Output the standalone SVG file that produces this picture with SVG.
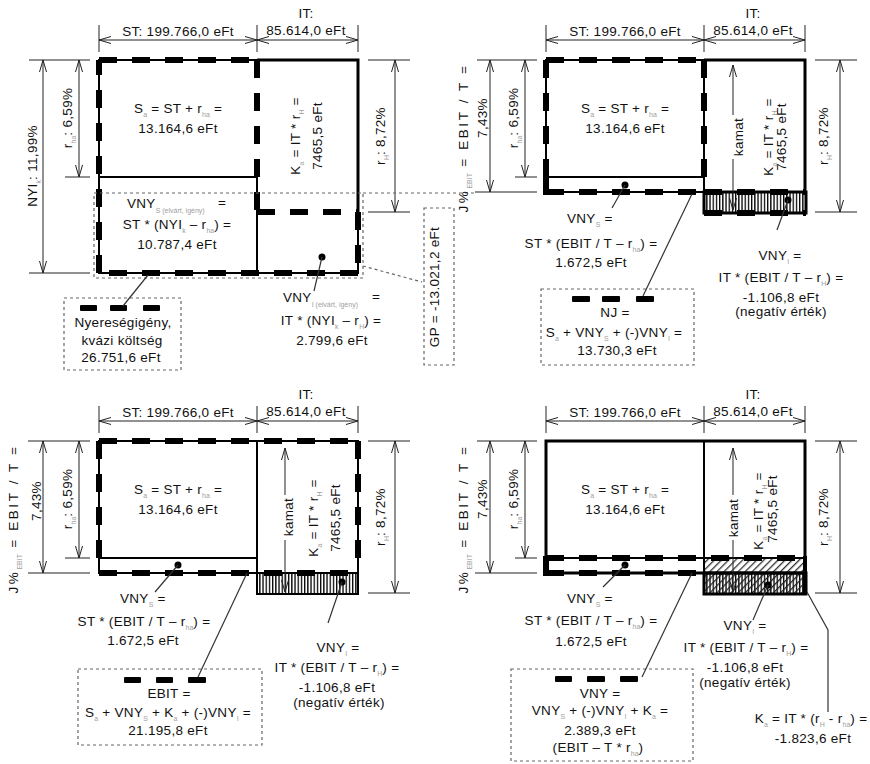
<svg xmlns="http://www.w3.org/2000/svg" width="870" height="764" viewBox="0 0 870 764">
<style>
text{font-family:"Liberation Sans",Arial,Helvetica,sans-serif;font-size:13.5px;fill:#111;letter-spacing:.3px}
.c{text-anchor:middle}
.s{font-size:7px;fill:#a0a0a0;letter-spacing:0}
.sp{letter-spacing:2.6px}
.thin{fill:none;stroke:#000;stroke-width:2}
.frame{fill:none;stroke:#000;stroke-width:3}
.dash{fill:none;stroke:#000;stroke-width:6;stroke-dasharray:18 15}
.blk{stroke:#000;stroke-width:6}
.dim{fill:none;stroke:#222;stroke-width:1}
.arr{marker-start:url(#arr);marker-end:url(#arr)}
.arr1{marker-end:url(#arr)}
.dot{fill:none;stroke:#666;stroke-width:1.2;stroke-dasharray:3 3}
.lead{fill:none;stroke:#333;stroke-width:1.2}
.pt{fill:#000}
.bar{fill:#000}
</style>
<defs>
<marker id="arr" viewBox="0 0 12 8" refX="12" refY="4" markerWidth="12" markerHeight="8" markerUnits="userSpaceOnUse" orient="auto-start-reverse"><path d="M0,0.5 L12,4 L0,7.5" fill="none" stroke="#222" stroke-width="1"/></marker>
<pattern id="vh" width="3.2" height="4" patternUnits="userSpaceOnUse"><rect width="3.2" height="4" fill="#fff"/><rect width="1.3" height="4" fill="#000"/></pattern>
<pattern id="dh" width="5" height="5" patternUnits="userSpaceOnUse" patternTransform="rotate(45)"><rect width="5" height="5" fill="#fff"/><rect width="1.3" height="5" fill="#333"/></pattern>
<pattern id="dh2" width="5" height="5" patternUnits="userSpaceOnUse" patternTransform="rotate(45)"><rect width="1.3" height="5" fill="#222"/></pattern>
</defs>
<rect width="870" height="764" fill="#fff"/>

<!-- ================= PANEL 1 (top-left) ================= -->
<g id="panel1">
 <g id="p1-dims">
  <line class="dim" x1="99" y1="25" x2="99" y2="52"/>
  <line class="dim" x1="257" y1="25" x2="257" y2="52"/>
  <line class="dim" x1="358" y1="25" x2="358" y2="52"/>
  <line class="dim arr" x1="99" y1="40" x2="257" y2="40"/>
  <line class="dim arr" x1="257" y1="40" x2="358" y2="40"/>
  <text class="c" x="178" y="36">ST: 199.766,0 eFt</text>
  <text class="c" x="306" y="18">IT:</text>
  <text class="c" x="306" y="35">85.614,0 eFt</text>
  <line class="dim" x1="29" y1="60" x2="90" y2="60"/>
  <line class="dim" x1="29" y1="273" x2="90" y2="273"/>
  <line class="dim" x1="65" y1="177" x2="90" y2="177"/>
  <line class="dim arr" x1="43" y1="60" x2="43" y2="273"/>
  <line class="dim arr" x1="79" y1="60" x2="79" y2="177"/>
  <text class="c" transform="translate(37,166) rotate(-90)">NYI<tspan class="s" dy="4">k</tspan><tspan dy="-4">: 11,99%</tspan></text>
  <text class="c" transform="translate(72,118) rotate(-90)">r<tspan class="s" dy="4">ha</tspan><tspan dy="-4">: 6,59%</tspan></text>
  <line class="dim" x1="368" y1="60" x2="410" y2="60"/>
  <line class="dim" x1="368" y1="212" x2="410" y2="212"/>
  <line class="dim arr" x1="395" y1="60" x2="395" y2="212"/>
  <text class="c" transform="translate(385,136) rotate(-90)">r<tspan class="s" dy="4">H</tspan><tspan dy="-4">: 8,72%</tspan></text>
 </g>
 <g id="p1-shapes">
  <rect class="thin" x="99" y="60" width="259" height="213"/>
  <line class="thin" x1="99" y1="177" x2="257" y2="177"/>
  <line class="thin" x1="257" y1="177" x2="257" y2="273"/>
  <path class="frame" d="M257,60 H358 V212"/>
  <path class="dash" d="M99,60 H257 M257,60 V212 M257,212 H358 M358,212 V273 M358,273 H99 M99,273 V60"/>
  <rect class="dot" x="94" y="193" width="269" height="85"/>
  <line class="dot" x1="363" y1="193" x2="476" y2="193"/>
 </g>
 <g id="p1-sa">
  <text class="c" x="178" y="113">S<tspan class="s" dy="4">a</tspan><tspan dy="-4"> = ST + r</tspan><tspan class="s" dy="4">ha</tspan><tspan dy="-4"> =</tspan></text>
  <text class="c" x="178" y="133">13.164,6 eFt</text>
 </g>
 <g id="p1-ka">
  <text class="c" transform="translate(300,136) rotate(-90)">K<tspan class="s" dy="4">a</tspan><tspan dy="-4"> = IT * r</tspan><tspan class="s" dy="4">H</tspan><tspan dy="-4"> =</tspan></text>
  <text class="c" transform="translate(322,136) rotate(-90)">7465,5 eFt</text>
 </g>
 <g id="p1-vnys">
  <text x="127" y="208">VNY<tspan class="s" dy="5">S (elvárt, igény)</tspan></text>
  <text x="218" y="207">=</text>
  <text class="c" x="177" y="229">ST * (NYI<tspan class="s" dy="4">k</tspan><tspan dy="-4"> – r</tspan><tspan class="s" dy="4">ha</tspan><tspan dy="-4">) =</tspan></text>
  <text class="c" x="177" y="249">10.787,4 eFt</text>
 </g>
 <g id="p1-vnyi">
  <circle class="pt" cx="322" cy="257" r="3.5"/>
  <text x="283" y="302">VNY<tspan class="s" dy="5">I (elvárt, igény)</tspan></text>
  <text x="372" y="301">=</text>
  <text class="c" x="331" y="325">IT * (NYI<tspan class="s" dy="4">k</tspan><tspan dy="-4"> – r</tspan><tspan class="s" dy="4">H</tspan><tspan dy="-4">) =</tspan></text>
  <text class="c" x="332" y="345">2.799,6 eFt</text>
 </g>
 <g id="p1-legend">
  <rect class="dot" x="64" y="298" width="117" height="72"/>
  <rect class="bar" x="80" y="305" width="17" height="6" rx="1"/>
  <rect class="bar" x="110" y="305" width="17" height="6" rx="1"/>
  <rect class="bar" x="143" y="305" width="17" height="6" rx="1"/>
  <text class="c" x="123" y="327">Nyereségigény,</text>
  <text class="c" x="122" y="345">kvázi költség</text>
  <text class="c" x="121" y="362">26.751,6 eFt</text>
 </g>
 <g id="p1-gp">
  <rect class="dot" x="424" y="208" width="30" height="157"/>
  <text class="c" transform="translate(439,287) rotate(-90)">GP = -13.021,2 eFt</text>
 </g>
</g>

<!-- ================= PANEL 2 (top-right) ================= -->
<g id="panel2" transform="translate(447,0)">
 <g id="p2-dims">
  <line class="dim" x1="99" y1="25" x2="99" y2="52"/>
  <line class="dim" x1="257" y1="25" x2="257" y2="52"/>
  <line class="dim" x1="358" y1="25" x2="358" y2="52"/>
  <line class="dim arr" x1="99" y1="40" x2="257" y2="40"/>
  <line class="dim arr" x1="257" y1="40" x2="358" y2="40"/>
  <text class="c" x="178" y="36">ST: 199.766,0 eFt</text>
  <text class="c" x="306" y="18">IT:</text>
  <text class="c" x="306" y="35">85.614,0 eFt</text>
  <line class="dim" x1="30" y1="60" x2="90" y2="60"/>
  <line class="dim" x1="28" y1="192" x2="90" y2="192"/>
  <line class="dim" x1="68" y1="177" x2="90" y2="177"/>
  <line class="dim arr" x1="43" y1="60" x2="43" y2="192"/>
  <line class="dim arr" x1="78" y1="60" x2="78" y2="177"/>
  <text class="c sp" transform="translate(21,138) rotate(-90)">J%<tspan class="s" dy="4">EBIT</tspan><tspan dy="-4"> = EBIT / T =</tspan></text>
  <text class="c" transform="translate(40,118) rotate(-90)">7,43%</text>
  <text class="c" transform="translate(71,118) rotate(-90)">r<tspan class="s" dy="4">ha</tspan><tspan dy="-4">: 6,59%</tspan></text>
  <line class="dim" x1="368" y1="60" x2="410" y2="60"/>
  <line class="dim" x1="368" y1="212" x2="410" y2="212"/>
  <line class="dim arr" x1="393" y1="60" x2="393" y2="212"/>
  <text class="c" transform="translate(381,136) rotate(-90)">r<tspan class="s" dy="4">H</tspan><tspan dy="-4">: 8,72%</tspan></text>
 </g>
 <g id="p2-shapes">
  <rect class="thin" x="99" y="60" width="158" height="132"/>
  <line class="thin" x1="99" y1="177" x2="257" y2="177"/>
  <path class="frame" d="M257,60 H358 V192"/>
  <rect x="257" y="192" width="102" height="21" fill="url(#vh)" stroke="#000" stroke-width="3"/>
  <path class="dash" d="M99,60 H257 M257,60 V177 M99,60 V192 M99,192 H257 M257,192 H359 M257,213 H359"/>
  <line class="blk" x1="99" y1="175" x2="99" y2="195"/>
 </g>
 <g id="p2-kamat">
  <line class="dim arr1" x1="286" y1="115" x2="286" y2="65"/>
  <line class="dim arr1" x1="286" y1="159" x2="286" y2="210"/>
  <text class="c" transform="translate(296,137) rotate(-90)">kamat</text>
 </g>
 <g id="p2-sa">
  <text class="c" x="178" y="113">S<tspan class="s" dy="4">a</tspan><tspan dy="-4"> = ST + r</tspan><tspan class="s" dy="4">ha</tspan><tspan dy="-4"> =</tspan></text>
  <text class="c" x="178" y="133">13.164,6 eFt</text>
 </g>
 <g id="p2-ka">
  <text class="c" transform="translate(326,137) rotate(-90)">K<tspan class="s" dy="4">a</tspan><tspan dy="-4"> = IT * r</tspan><tspan class="s" dy="4">H</tspan><tspan dy="-4"> =</tspan></text>
  <text class="c" transform="translate(339,137) rotate(-90)">7465,5 eFt</text>
 </g>
 <g id="p2-vnys">
  <circle class="pt" cx="178" cy="185" r="3.5"/>
  <text x="120" y="223">VNY<tspan class="s" dy="4">S</tspan><tspan dy="-4"> =</tspan></text>
  <text class="c" x="144" y="248">ST * (EBIT / T – r<tspan class="s" dy="4">ha</tspan><tspan dy="-4">) =</tspan></text>
  <text class="c" x="144" y="267">1.672,5 eFt</text>
 </g>
 <g id="p2-nj">
  <rect class="dot" x="94" y="289" width="153" height="76"/>
  <rect class="bar" x="125" y="296" width="18" height="6" rx="1"/>
  <rect class="bar" x="155" y="296" width="18" height="6" rx="1"/>
  <rect class="bar" x="189" y="296" width="18" height="6" rx="1"/>
  <text class="c" x="168" y="317">NJ =</text>
  <text class="c" x="167" y="337">S<tspan class="s" dy="4">a</tspan><tspan dy="-4"> + VNY</tspan><tspan class="s" dy="4">S</tspan><tspan dy="-4"> + (-)VNY</tspan><tspan class="s" dy="4">I</tspan><tspan dy="-4"> =</tspan></text>
  <text class="c" x="170" y="355">13.730,3 eFt</text>
 </g>
 <g id="p2-vnyi">
  <circle class="pt" cx="341" cy="200" r="3.5"/>
  <text class="c" x="333" y="260">VNY<tspan class="s" dy="4">I</tspan><tspan dy="-4"> =</tspan></text>
  <text class="c" x="334" y="282">IT * (EBIT / T – r<tspan class="s" dy="4">H</tspan><tspan dy="-4">) =</tspan></text>
  <text class="c" x="334" y="302">-1.106,8 eFt</text>
  <text class="c" x="334" y="316">(negatív érték)</text>
 </g>
</g>

<!-- ================= PANEL 3 (bottom-left) ================= -->
<g id="panel3" transform="translate(0,381)">
 <g id="p3-dims">
  <line class="dim" x1="99" y1="25" x2="99" y2="52"/>
  <line class="dim" x1="257" y1="25" x2="257" y2="52"/>
  <line class="dim" x1="358" y1="25" x2="358" y2="52"/>
  <line class="dim arr" x1="99" y1="40" x2="257" y2="40"/>
  <line class="dim arr" x1="257" y1="40" x2="358" y2="40"/>
  <text class="c" x="178" y="36">ST: 199.766,0 eFt</text>
  <text class="c" x="306" y="18">IT:</text>
  <text class="c" x="306" y="35">85.614,0 eFt</text>
  <line class="dim" x1="28" y1="60" x2="90" y2="60"/>
  <line class="dim" x1="28" y1="192" x2="90" y2="192"/>
  <line class="dim" x1="65" y1="177" x2="90" y2="177"/>
  <line class="dim arr" x1="43" y1="60" x2="43" y2="192"/>
  <line class="dim arr" x1="79" y1="60" x2="79" y2="177"/>
  <text class="c sp" transform="translate(18,138) rotate(-90)">J%<tspan class="s" dy="4">EBIT</tspan><tspan dy="-4"> = EBIT / T =</tspan></text>
  <text class="c" transform="translate(41,120) rotate(-90)">7,43%</text>
  <text class="c" transform="translate(72,118) rotate(-90)">r<tspan class="s" dy="4">ha</tspan><tspan dy="-4">: 6,59%</tspan></text>
  <line class="dim" x1="368" y1="60" x2="410" y2="60"/>
  <line class="dim" x1="368" y1="212" x2="410" y2="212"/>
  <line class="dim arr" x1="395" y1="60" x2="395" y2="212"/>
  <text class="c" transform="translate(385,136) rotate(-90)">r<tspan class="s" dy="4">H</tspan><tspan dy="-4">: 8,72%</tspan></text>
 </g>
 <g id="p3-shapes">
  <rect class="thin" x="99" y="60" width="259" height="132"/>
  <line class="thin" x1="99" y1="177" x2="257" y2="177"/>
  <line class="thin" x1="257" y1="60" x2="257" y2="192"/>
  <rect x="257" y="192" width="101" height="21" fill="url(#vh)" stroke="#000" stroke-width="2"/>
  <path class="dash" d="M99,60 H358 M358,60 V192 M99,60 V192 M99,192 H358"/>
 </g>
 <g id="p3-kamat">
  <line class="dim arr1" x1="285" y1="114" x2="285" y2="67"/>
  <line class="dim arr1" x1="285" y1="159" x2="285" y2="211"/>
  <text class="c" transform="translate(293,136) rotate(-90)">kamat</text>
 </g>
 <g id="p3-sa">
  <text class="c" x="178" y="113">S<tspan class="s" dy="4">a</tspan><tspan dy="-4"> = ST + r</tspan><tspan class="s" dy="4">ha</tspan><tspan dy="-4"> =</tspan></text>
  <text class="c" x="178" y="133">13.164,6 eFt</text>
 </g>
 <g id="p3-ka">
  <text class="c" transform="translate(318,137) rotate(-90)">K<tspan class="s" dy="4">a</tspan><tspan dy="-4"> = IT * r</tspan><tspan class="s" dy="4">H</tspan><tspan dy="-4"> =</tspan></text>
  <text class="c" transform="translate(340,137) rotate(-90)">7465,5 eFt</text>
 </g>
 <g id="p3-vnys">
  <circle class="pt" cx="178" cy="184" r="3.5"/>
  <text x="120" y="222">VNY<tspan class="s" dy="4">S</tspan><tspan dy="-4"> =</tspan></text>
  <text class="c" x="144" y="245">ST * (EBIT / T – r<tspan class="s" dy="4">ha</tspan><tspan dy="-4">) =</tspan></text>
  <text class="c" x="143" y="264">1.672,5 eFt</text>
 </g>
 <g id="p3-ebit">
  <rect class="dot" x="78" y="288" width="184" height="76"/>
  <rect class="bar" x="124" y="296" width="17" height="6" rx="1"/>
  <rect class="bar" x="156" y="296" width="17" height="6" rx="1"/>
  <rect class="bar" x="188" y="296" width="18" height="6" rx="1"/>
  <text class="c" x="169" y="317">EBIT =</text>
  <text class="c" x="168" y="336">S<tspan class="s" dy="4">a</tspan><tspan dy="-4"> + VNY</tspan><tspan class="s" dy="4">S</tspan><tspan dy="-4"> + K</tspan><tspan class="s" dy="4">a</tspan><tspan dy="-4"> + (-)VNY</tspan><tspan class="s" dy="4">I</tspan><tspan dy="-4"> =</tspan></text>
  <text class="c" x="168" y="354">21.195,8 eFt</text>
 </g>
 <g id="p3-vnyi">
  <circle class="pt" cx="342" cy="201" r="3.5"/>
  <text class="c" x="338" y="271">VNY<tspan class="s" dy="4">I</tspan><tspan dy="-4"> =</tspan></text>
  <text class="c" x="337" y="291">IT * (EBIT / T – r<tspan class="s" dy="4">H</tspan><tspan dy="-4">) =</tspan></text>
  <text class="c" x="337" y="311">-1.106,8 eFt</text>
  <text class="c" x="339" y="326">(negatív érték)</text>
 </g>
</g>

<!-- ================= PANEL 4 (bottom-right) ================= -->
<g id="panel4" transform="translate(447,381)">
 <g id="p4-dims">
  <line class="dim" x1="99" y1="25" x2="99" y2="52"/>
  <line class="dim" x1="257" y1="25" x2="257" y2="52"/>
  <line class="dim" x1="358" y1="25" x2="358" y2="52"/>
  <line class="dim arr" x1="99" y1="40" x2="257" y2="40"/>
  <line class="dim arr" x1="257" y1="40" x2="358" y2="40"/>
  <text class="c" x="178" y="36">ST: 199.766,0 eFt</text>
  <text class="c" x="306" y="18">IT:</text>
  <text class="c" x="306" y="35">85.614,0 eFt</text>
  <line class="dim" x1="30" y1="60" x2="90" y2="60"/>
  <line class="dim" x1="28" y1="192" x2="90" y2="192"/>
  <line class="dim" x1="68" y1="177" x2="90" y2="177"/>
  <line class="dim arr" x1="43" y1="60" x2="43" y2="192"/>
  <line class="dim arr" x1="78" y1="60" x2="78" y2="177"/>
  <text class="c sp" transform="translate(21,138) rotate(-90)">J%<tspan class="s" dy="4">EBIT</tspan><tspan dy="-4"> = EBIT / T =</tspan></text>
  <text class="c" transform="translate(40,118) rotate(-90)">7,43%</text>
  <text class="c" transform="translate(71,118) rotate(-90)">r<tspan class="s" dy="4">ha</tspan><tspan dy="-4">: 6,59%</tspan></text>
  <line class="dim" x1="368" y1="60" x2="410" y2="60"/>
  <line class="dim" x1="368" y1="212" x2="410" y2="212"/>
  <line class="dim arr" x1="393" y1="60" x2="393" y2="212"/>
  <text class="c" transform="translate(381,136) rotate(-90)">r<tspan class="s" dy="4">H</tspan><tspan dy="-4">: 8,72%</tspan></text>
 </g>
 <g id="p4-shapes">
  <rect x="257" y="177" width="102" height="15" fill="url(#dh)"/>
  <rect x="257" y="192" width="102" height="21" fill="url(#vh)"/>
  <rect x="257" y="192" width="102" height="21" fill="url(#dh2)" stroke="#000" stroke-width="3"/>
  <rect class="frame" x="99" y="60" width="259" height="132"/>
  <line class="thin" x1="257" y1="60" x2="257" y2="192"/>
  <line class="thin" x1="99" y1="177" x2="358" y2="177"/>
  <path class="dash" d="M99,177 H358 M99,192 H257"/>
  <line class="blk" x1="99" y1="175" x2="99" y2="195"/>
  <line x1="358" y1="175" x2="358" y2="214" stroke="#000" stroke-width="4"/>
 </g>
 <g id="p4-kamat">
  <line class="dim arr1" x1="286" y1="114" x2="286" y2="67"/>
  <line class="dim arr1" x1="286" y1="159" x2="286" y2="211"/>
  <text class="c" transform="translate(291,137) rotate(-90)">kamat</text>
 </g>
 <g id="p4-sa">
  <text class="c" x="178" y="113">S<tspan class="s" dy="4">a</tspan><tspan dy="-4"> = ST + r</tspan><tspan class="s" dy="4">ha</tspan><tspan dy="-4"> =</tspan></text>
  <text class="c" x="178" y="133">13.164,6 eFt</text>
 </g>
 <g id="p4-ka">
  <text class="c" transform="translate(316,130) rotate(-90)">K<tspan class="s" dy="4">a</tspan><tspan dy="-4"> = IT * r</tspan><tspan class="s" dy="4">H</tspan><tspan dy="-4"> =</tspan></text>
  <text class="c" transform="translate(330,128) rotate(-90)">7465,5 eFt</text>
 </g>
 <g id="p4-vnys">
  <circle class="pt" cx="178" cy="184" r="3.5"/>
  <text x="120" y="222">VNY<tspan class="s" dy="4">S</tspan><tspan dy="-4"> =</tspan></text>
  <text class="c" x="144" y="244">ST * (EBIT / T – r<tspan class="s" dy="4">ha</tspan><tspan dy="-4">) =</tspan></text>
  <text class="c" x="144" y="265">1.672,5 eFt</text>
 </g>
 <g id="p4-vny">
  <rect class="dot" x="64" y="288" width="182" height="92"/>
  <rect class="bar" x="108" y="295" width="17" height="6" rx="1"/>
  <rect class="bar" x="140" y="295" width="18" height="6" rx="1"/>
  <rect class="bar" x="173" y="295" width="18" height="6" rx="1"/>
  <text class="c" x="153" y="317">VNY =</text>
  <text class="c" x="153" y="334">VNY<tspan class="s" dy="4">S</tspan><tspan dy="-4"> + (-)VNY</tspan><tspan class="s" dy="4">I</tspan><tspan dy="-4"> + K</tspan><tspan class="s" dy="4">a</tspan><tspan dy="-4"> =</tspan></text>
  <text class="c" x="153" y="354">2.389,3 eFt</text>
  <text class="c" x="151" y="371">(EBIT – T * r<tspan class="s" dy="4">ha</tspan><tspan dy="-4">)</tspan></text>
 </g>
 <g id="p4-vnyi">
  <circle class="pt" cx="321" cy="204" r="3.5"/>
  <text class="c" x="298" y="249">VNY<tspan class="s" dy="4">I</tspan><tspan dy="-4"> =</tspan></text>
  <text class="c" x="299" y="271">IT * (EBIT / T – r<tspan class="s" dy="4">H</tspan><tspan dy="-4">) =</tspan></text>
  <text class="c" x="298" y="291">-1.106,8 eFt</text>
  <text class="c" x="298" y="306">(negatív érték)</text>
 </g>
 <g id="p4-kadiff">
  <text class="c" x="364" y="342">K<tspan class="s" dy="4">a</tspan><tspan dy="-4"> = IT * (r</tspan><tspan class="s" dy="4">H</tspan><tspan dy="-4"> - r</tspan><tspan class="s" dy="4">ha</tspan><tspan dy="-4">) =</tspan></text>
  <text class="c" x="366" y="362">-1.823,6 eFt</text>
 </g>
</g>

<!-- ================= CONNECTORS ================= -->
<g id="connectors">
 <line class="lead" x1="322" y1="257" x2="314" y2="291"/>
 <line class="lead" x1="148" y1="275" x2="123" y2="306"/>
 <line class="dot" x1="363" y1="266" x2="422" y2="282"/>
 <g transform="translate(447,0)">
  <line class="lead" x1="178" y1="185" x2="165" y2="208"/>
  <line class="lead" x1="245" y1="194" x2="196" y2="296"/>
  <line class="lead" x1="341" y1="200" x2="330" y2="230"/>
 </g>
 <g transform="translate(0,381)">
  <line class="lead" x1="178" y1="184" x2="155" y2="211"/>
  <line class="lead" x1="247" y1="192" x2="198" y2="296"/>
  <line class="lead" x1="342" y1="201" x2="328" y2="242"/>
 </g>
 <g transform="translate(447,381)">
  <line class="lead" x1="178" y1="184" x2="156" y2="206"/>
  <line class="lead" x1="245" y1="192" x2="195" y2="296"/>
  <line class="lead" x1="321" y1="204" x2="306" y2="239"/>
  <polyline class="lead" points="360,211 381,249 381,331"/>
 </g>
</g>
</svg>
